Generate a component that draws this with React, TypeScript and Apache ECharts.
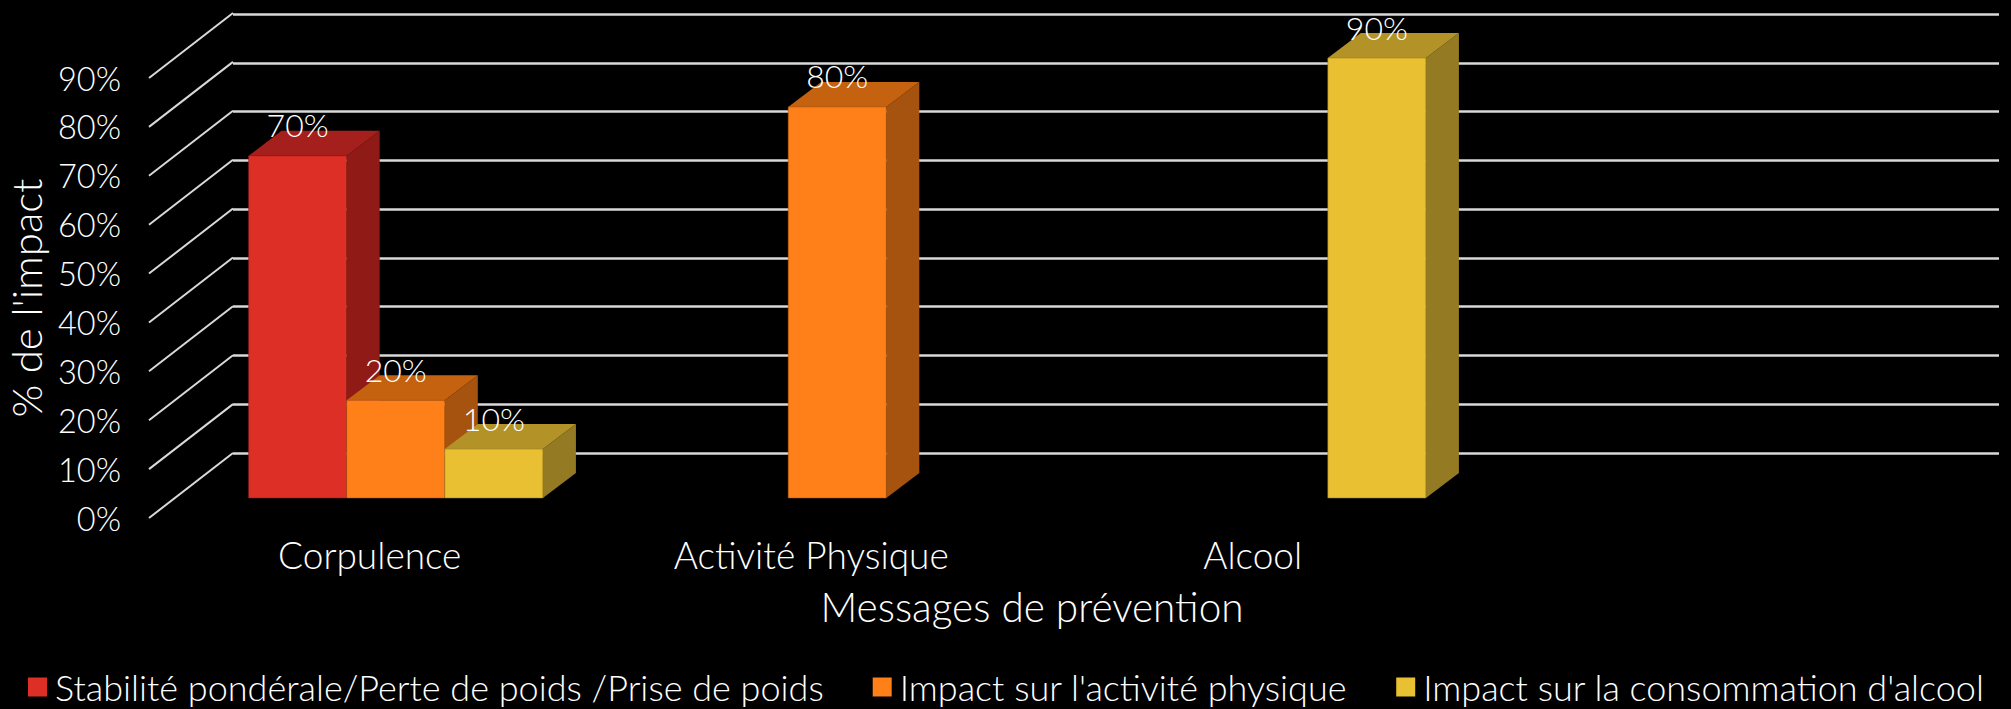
import React, { useEffect, useRef } from "react";
import * as echarts from "echarts";

const categories = ["Corpulence", "Activité Physique", "Alcool", ""];
const ticks = [0, 10, 20, 30, 40, 50, 60, 70, 80, 90];
const seriesNames = [
  "Stabilité pondérale/Perte de poids /Prise de poids",
  "Impact sur l'activité physique",
  "Impact sur la consommation d'alcool",
];
const stabilite: [number, number][] = [[0, 70]];
const activite: [number, number][] = [[0, 20], [1, 80]];
const alcool: [number, number][] = [[0, 10], [2, 90]];
const faceColors = ["#de2f27", "#ff7f18", "#e8c032"];
const sideColors = ["#8f1a16", "#a5530f", "#947a22"];
const topColors = ["#a5201c", "#c46210", "#b39328"];

const FONT = "Lato";
const WEIGHT = 300;
const W = 2011;
const H = 709;
const WALL_DX = 84;
const WALL_DY = -65;
const BAR_SHIFT_X = 26;
const BAR_SHIFT_Y = -20;
const BAR_DX = 33;
const BAR_DY = -25;

function barSeries(idx: number, data: [number, number][]) {
  return {
    type: "custom",
    name: seriesNames[idx],
    xAxisIndex: 0,
    yAxisIndex: 0,
    clip: false,
    z: 5,
    itemStyle: { color: faceColors[idx] },
    encode: { x: 0, y: 1 },
    data,
    renderItem: (_p: any, api: any) => {
      const cat = api.value(0);
      const val = api.value(1);
      const catW = api.size([1, 0])[0];
      const bw = catW / 4.5;
      const c = api.coord([cat, val]);
      const base = api.coord([cat, 0]);
      const x0 = c[0] - bw * 1.5 + idx * bw + BAR_SHIFT_X;
      const x1 = x0 + bw;
      const yt = c[1] + BAR_SHIFT_Y;
      const yb = base[1] + BAR_SHIFT_Y;
      return {
        type: "group",
        children: [
          {
            type: "polygon",
            shape: { points: [[x1, yt], [x1 + BAR_DX, yt + BAR_DY], [x1 + BAR_DX, yb + BAR_DY], [x1, yb]] },
            style: { fill: sideColors[idx] },
          },
          {
            type: "polygon",
            shape: { points: [[x0, yt], [x0 + BAR_DX, yt + BAR_DY], [x1 + BAR_DX, yt + BAR_DY], [x1, yt]] },
            style: { fill: topColors[idx] },
          },
          {
            type: "rect",
            shape: { x: x0, y: yt, width: bw, height: yb - yt },
            style: { fill: faceColors[idx], stroke: sideColors[idx], lineWidth: 0.5 },
          },
          {
            type: "text",
            x: (x0 + x1) / 2,
            y: yt - 31,
            style: {
              text: `${val}%`,
              fill: "#ffffff",
              font: `${WEIGHT} 32px ${FONT}`,
              align: "center",
              verticalAlign: "middle",
            },
          },
        ],
      };
    },
  };
}

export default function App() {
  const ref = useRef<HTMLDivElement>(null);
  useEffect(() => {
    document.body.style.margin = "0";
    document.body.style.background = "#000";
    const chart = echarts.init(ref.current!, null, { renderer: "svg" });
    chart.setOption({
      animation: false,
      backgroundColor: "#000000",
      textStyle: { fontFamily: FONT, fontWeight: WEIGHT },
      legend: {
        data: seriesNames,
        left: 28,
        top: 669,
        padding: 0,
        icon: "rect",
        itemWidth: 19,
        itemHeight: 19,
        itemGap: 49,
        textStyle: { color: "#ffffff", fontSize: 36, fontWeight: WEIGHT, fontFamily: FONT, padding: [0, 0, 0, 3] },
      },
      grid: [
        { left: 149, top: 78, width: 1766, height: 440, outerBoundsMode: "none" },
        { left: 233, top: 14, width: 1766, height: 439, outerBoundsMode: "none" },
      ],
      xAxis: [
        {
          type: "category",
          gridIndex: 0,
          data: categories,
          axisLine: { show: false },
          axisTick: { show: false },
          axisLabel: { color: "#ffffff", fontSize: 37, fontWeight: WEIGHT, fontFamily: FONT, margin: 18, interval: 0 },
          name: "Messages de prévention",
          nameLocation: "middle",
          nameGap: 68,
          nameTextStyle: { color: "#ffffff", fontSize: 40.5, fontWeight: WEIGHT, fontFamily: FONT },
        },
        { type: "category", gridIndex: 1, data: categories, show: false },
      ],
      yAxis: [
        {
          type: "value",
          gridIndex: 0,
          min: 0,
          max: 90,
          interval: 10,
          axisLine: { show: false },
          axisTick: { show: false },
          splitLine: { show: false },
          axisLabel: { color: "#ffffff", fontSize: 32.5, fontWeight: WEIGHT, fontFamily: FONT, margin: 28, formatter: "{value}%" },
          name: "% de l'impact",
          nameLocation: "middle",
          nameGap: 99,
          nameTextStyle: { color: "#ffffff", fontSize: 42, fontWeight: WEIGHT, fontFamily: FONT },
        },
        {
          type: "value",
          gridIndex: 1,
          min: 0,
          max: 90,
          interval: 10,
          axisLine: { show: false },
          axisTick: { show: false },
          axisLabel: { show: false },
          splitLine: { show: true, lineStyle: { color: "#d9d9d9", width: 2.5 } },
        },
      ],
      series: [
        {
          type: "custom",
          name: "wall",
          xAxisIndex: 0,
          yAxisIndex: 0,
          clip: false,
          silent: true,
          z: 1,
          encode: { y: 0 },
          data: ticks.map((t) => [t]),
          renderItem: (_p: any, api: any) => {
            const p = api.coord([0, api.value(0)]);
            const x = p[0] - api.size([1, 0])[0] / 2;
            return {
              type: "line",
              shape: { x1: x, y1: p[1], x2: x + WALL_DX, y2: p[1] + WALL_DY },
              style: { stroke: "#d9d9d9", lineWidth: 2 },
            };
          },
        },
        barSeries(0, stabilite),
        barSeries(1, activite),
        barSeries(2, alcool),
      ],
    });
    return () => chart.dispose();
  }, []);
  return <div ref={ref} style={{ position: "absolute", left: 0, top: 0, width: W, height: H }} />;
}
